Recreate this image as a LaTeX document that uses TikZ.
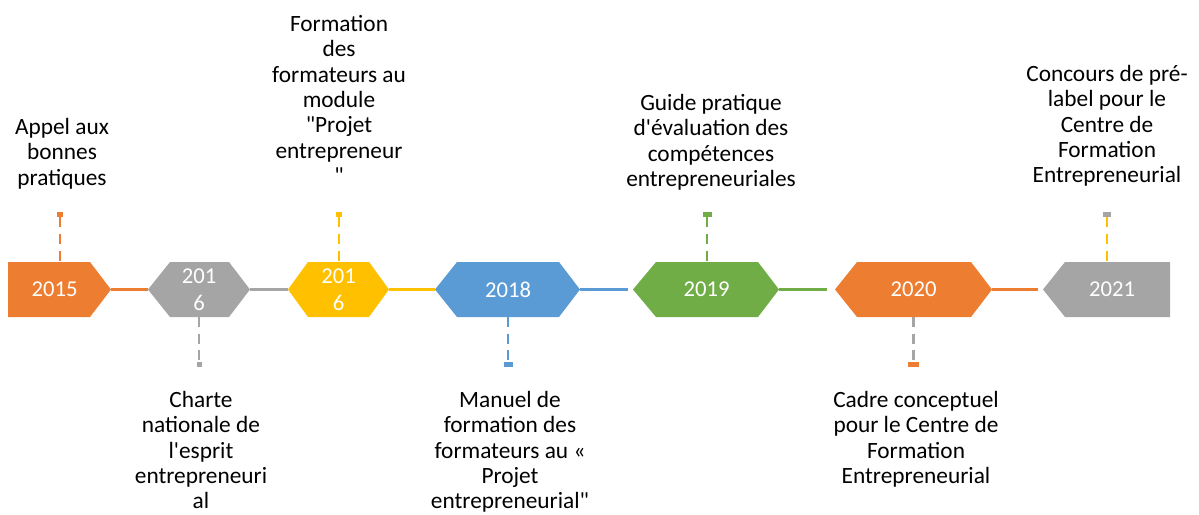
\documentclass[tikz,border=0pt]{standalone}
\usepackage{fontspec}
\setmainfont{Carlito}[Ligatures=TeXOff]
\definecolor{tlorange}{HTML}{ED7D31}
\definecolor{tlgray}{HTML}{A5A5A5}
\definecolor{tlyellow}{HTML}{FFC000}
\definecolor{tlblue}{HTML}{5B9BD5}
\definecolor{tlgreen}{HTML}{70AD47}
\begin{document}
\begin{tikzpicture}[x=0.75pt,y=-0.75pt,
        year/.style={text=white,font=\fontsize{17}{20.3}\selectfont,align=center,inner sep=0pt},
        lbl/.style={font=\fontsize{17.5}{19}\selectfont,align=center,inner sep=0pt,anchor=north},
        link/.style={line width=2pt},
        stem/.style={line width=1.6pt,dash pattern=on 7.5pt off 5pt},
        tick/.style={fill=#1,minimum height=3.75pt,inner sep=0pt}]
        \useasboundingbox (0,0) rectangle (1199,514);
        % year shapes
        \fill [tlorange] (8,262) -- (60,262) coordinate (t15) -- (90,262) -- (111,289.5) coordinate (r15) -- (90,317) -- (8,317) -- cycle;
        \node [year] (y15) at (54.5,289.5) {2015};
        \fill [tlgray] (148,289.5) coordinate (l16a) -- (170,262) -- (229,262) -- (250,289.5) coordinate (r16a) -- (229,317) -- (199,317) coordinate (b16a) -- (170,317) -- cycle;
        \node [year] (y16a) at (199,289.5) {201\\6};
        \fill [tlyellow] (288,289.5) coordinate (l16b) -- (308,262) -- (339,262) coordinate (t16b) -- (369,262) -- (389,289.5) coordinate (r16b) -- (369,317) -- (308,317) -- cycle;
        \node [year] (y16b) at (338.5,289.5) {201\\6};
        \fill [tlblue] (435,289.5) coordinate (l18) -- (457,262) -- (559,262) -- (580,289.5) coordinate (r18) -- (559,317) -- (508,317) coordinate (b18) -- (457,317) -- cycle;
        \node [year] (y18) at (508,289.5) {2018};
        \fill [tlgreen] (633,289.5) coordinate (l19) -- (656,262) -- (707,262) coordinate (t19) -- (758,262) -- (779,289.5) coordinate (r19) -- (758,317) -- (656,317) -- cycle;
        \node [year] (y19) at (706.5,289.5) {2019};
        \fill [tlorange] (835,289.5) coordinate (l20) -- (857,262) -- (971,262) -- (992,289.5) coordinate (r20) -- (971,317) -- (913.5,317) coordinate (b20) -- (857,317) -- cycle;
        \node [year] (y20) at (913.5,289.5) {2020};
        \fill [tlgray] (1043,289.5) coordinate (l21) -- (1065,262) -- (1107,262) coordinate (t21) -- (1170,262) -- (1170,317) -- (1065,317) -- cycle;
        \node [year] (y21) at (1112,289.5) {2021};
        % links between the years
        \draw [link,tlorange] (r15) -- (l16a);
        \draw [link,tlgray] (r16a) -- (l16b);
        \draw [link,tlyellow] (r16b) -- (l18);
        \draw [link,tlblue,shorten >=3.75pt] (r18) -- (l19);
        \draw [link,tlgreen,shorten >=6pt] (r19) -- (l20);
        \draw [link,tlorange,shorten >=3.75pt] (r20) -- (l21);
        % ticks and dashed stems
        \node [tick=tlorange,minimum width=4.5pt] (k15) at (60,214.5) {};
        \draw [stem,tlorange] (k15.south) -- (t15);
        \node [tick=tlgray,minimum width=3.75pt] (k16a) at (199,364.5) {};
        \draw [stem,tlgray] (b16a) -- (k16a.north);
        \node [tick=tlyellow,minimum width=4.5pt] (k16b) at (339,214.5) {};
        \draw [stem,tlyellow] (k16b.south) -- (t16b);
        \node [tick=tlblue,minimum width=6.75pt] (k18) at (508,364.5) {};
        \draw [stem,tlblue] (b18) -- (k18.north);
        \node [tick=tlgreen,minimum width=6.75pt] (k19) at (707,214.5) {};
        \draw [stem,tlgreen] (k19.south) -- (t19);
        \node [tick=tlorange,minimum width=8.25pt] (k20) at (913.5,364.5) {};
        \draw [stem,tlgray] (b20) -- (k20.north);
        \node [tick=tlgray,minimum width=6pt] (k21) at (1107,214.5) {};
        \draw [stem,tlyellow] (k21.south) -- (t21);
        % texts
        \node [lbl] (n15) at (62,118) {Appel aux\\bonnes\\pratiques};
        \node [lbl] (n16a) at (201,391) {Charte\\nationale de\\l'esprit\\entrepreneuri\\al};
        \node [lbl] (n16b) at (339,15) {Formation\\des\\formateurs au\\module\\"Projet\\entrepreneur\\"};
        \node [lbl] (n18) at (510,391) {Manuel de\\formation des\\formateurs au «\\Projet\\entrepreneurial"};
        \node [lbl] (n19) at (711,94) {Guide pratique\\d'évaluation des\\compétences\\entrepreneuriales};
        \node [lbl] (n20) at (916,391) {Cadre conceptuel\\pour le Centre de\\Formation\\Entrepreneurial};
        \node [lbl] (n21) at (1107,65) {Concours de pré-\\label pour le\\Centre de\\Formation\\Entrepreneurial};
\end{tikzpicture}
\end{document}
